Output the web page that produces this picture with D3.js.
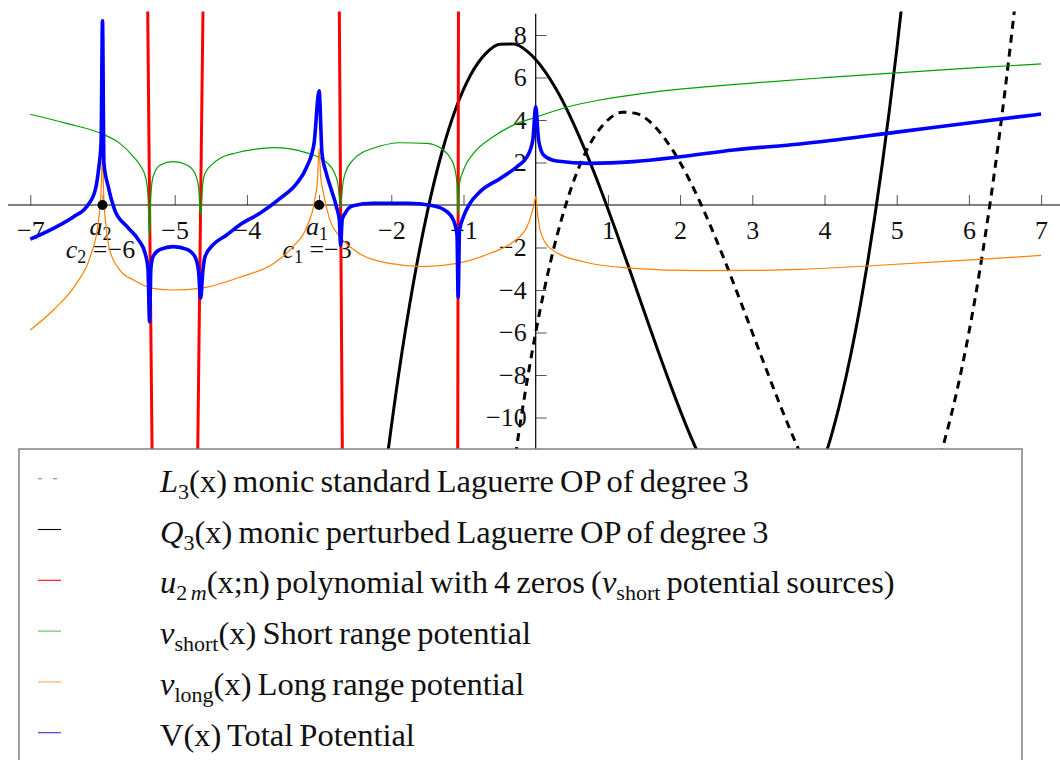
<!DOCTYPE html>
<html>
<head>
<meta charset="utf-8">
<script src="https://cdn.jsdelivr.net/npm/d3@7"></script>
<style>
  html, body { margin: 0; padding: 0; background: #fff; }
  svg { display: block; font-family: "Liberation Serif", "Times New Roman", serif; }
</style>
</head>
<body>
<div id="chart"></div>
<script>
// potentials plot, [x, y] pairs
const xTickValues = [-7, -6, -5, -4, -3, -2, -1, 1, 2, 3, 4, 5, 6, 7];
const xTickHidden = [-6, -3];
const yTickValues = [8, 6, 4, 2, -2, -4, -6, -8, -10];

// L3(x) dashed, two visible branches
const L3Left = [[-0.28,-11.77],[-0.2,-9.97],[-0.1,-7.89],[0,-6],[0.1,-4.29],[0.2,-2.75],[0.3,-1.38],[0.4,-0.18],
  [0.5,0.88],[0.6,1.78],[0.8,3.15],[1.0,4.0],[1.2,4.37],[1.4,4.30],[1.6,3.86],[1.8,3.07],[2.0,2.0],[2.2,0.69],
  [2.4,-0.82],[2.6,-2.46],[2.8,-4.21],[3.0,-6.0],[3.2,-7.79],[3.4,-9.54],[3.6,-11.18],[3.7,-11.96]];
const L3Right = [[5.6,-11.82],[5.7,-10.62],[5.8,-9.25],[5.9,-7.71],[6.0,-6.0],[6.1,-4.11],[6.2,-2.03],
  [6.3,0.24],[6.4,2.70],[6.5,5.38],[6.6,8.26],[6.7,11.35]];

// Q3(x) solid black
const Q3Left = [[-2.08,-12.48],[-1.9,-8.01],[-1.7,-3.79],[-1.5,-0.31],[-1.3,2.47],[-1.1,4.60],[-0.9,6.13],
  [-0.7,7.10],[-0.5,7.57],[-0.3,7.58],[-0.1,7.18],[0.1,6.42],[0.3,5.35],[0.5,4.01],[0.7,2.45],[0.9,0.73],
  [1.1,-1.12],[1.3,-3.04],[1.5,-4.99],[1.7,-6.92],[1.9,-8.77],[2.1,-10.51],[2.3,-12.07]];
const Q3Right = [[3.98,-12.12],[4.1,-10.79],[4.2,-9.51],[4.3,-8.06],[4.4,-6.44],[4.5,-4.63],[4.6,-2.64],
  [4.7,-0.46],[4.8,1.92],[4.9,4.50],[5.0,7.29],[5.1,10.30]];

// u_2m(x;n) - four nearly vertical branches through its zeros
const uBranches = [
  [[-5.374,9.2],[-5.348,0],[-5.313,-11.6]],
  [[-4.681,-11.6],[-4.641,0],[-4.608,9.2]],
  [[-2.720,9.2],[-2.702,0],[-2.678,-11.6]],
  [[-1.080,-11.6],[-1.074,0],[-1.070,9.2]]
];

// v_short(x)
const vShort = [[-7,4.27],[-6.5,3.84],[-6.0,3.34],[-5.76,2.90],[-5.57,2.27],[-5.47,1.82],[-5.40,1.25],[-5.37,0.45],
  [-5.348,-1.5],[-5.33,0.45],[-5.30,1.33],[-5.20,1.88],[-5.02,2.04],[-4.83,1.88],[-4.72,1.49],[-4.67,0.85],
  [-4.641,-0.5],[-4.615,0.85],[-4.58,1.49],[-4.47,1.95],[-4.37,2.2],[-4.14,2.46],[-3.9,2.62],[-3.63,2.70],
  [-3.4,2.64],[-3.17,2.45],[-3.0,2.24],[-2.89,1.98],[-2.80,1.6],[-2.74,1.0],[-2.702,-0.1],[-2.675,0.9],
  [-2.64,1.49],[-2.53,2.12],[-2.4,2.47],[-2.25,2.67],[-1.88,2.93],[-1.51,2.90],[-1.28,2.59],[-1.18,2.2],
  [-1.12,1.7],[-1.09,1.0],[-1.074,-0.5],[-1.055,1.0],[-1.00,1.65],[-0.86,2.43],[-0.59,3.21],[-0.31,3.76],
  [0,4.13],[0.43,4.6],[0.89,4.94],[1.44,5.23],[2.0,5.45],[3.0,5.74],[4.0,5.99],[5.0,6.22],[6.0,6.44],[7.0,6.64]];

// v_long(x)
const vLong = [[-7,-5.88],[-6.68,-4.94],[-6.36,-3.69],[-6.17,-2.43],[-6.06,-0.86],[-6.02,0.6],[-6.0,2.3],
  [-5.98,0.2],[-5.95,-1.02],[-5.90,-2.12],[-5.76,-3.06],[-5.57,-3.53],[-5.30,-3.92],[-5.02,-4.0],[-4.65,-3.92],
  [-4.10,-3.40],[-3.63,-2.75],[-3.36,-1.96],[-3.17,-1.02],[-3.06,0.24],[-3.02,1.3],[-3.0,2.67],[-2.98,1.4],
  [-2.94,0.55],[-2.85,-0.71],[-2.71,-1.49],[-2.48,-2.2],[-2.02,-2.75],[-1.56,-2.9],[-1.09,-2.75],[-0.63,-2.27],
  [-0.31,-1.73],[-0.12,-1.02],[-0.03,-0.08],[0,0.39],[0.03,-0.5],[0.06,-1.18],[0.2,-2.04],[0.66,-2.67],
  [1.35,-2.98],[2.28,-3.09],[3.0,-3.08],[3.66,-3.03],[4.58,-2.87],[6.15,-2.56],[7,-2.37]];

// V(x) total potential
const vTotal = [[-7,-1.61],[-6.68,-1.10],[-6.40,-0.55],[-6.22,-0.08],[-6.10,0.71],[-6.05,1.80],[-6.02,2.90],
  [-6.0,8.67],[-5.98,1.96],[-5.92,0.86],[-5.83,-0.24],[-5.66,-1.02],[-5.50,-1.65],[-5.41,-2.27],[-5.37,-3.0],
  [-5.348,-5.49],[-5.33,-3.0],[-5.30,-2.43],[-5.20,-2.09],[-5.02,-1.96],[-4.83,-2.09],[-4.72,-2.43],[-4.67,-3.1],
  [-4.641,-4.39],[-4.61,-3.1],[-4.58,-2.43],[-4.47,-1.88],[-4.28,-1.41],[-4.10,-0.94],[-3.82,-0.39],[-3.54,0.31],
  [-3.31,1.02],[-3.17,1.80],[-3.07,2.9],[-3.0,5.38],[-2.96,2.43],[-2.90,1.49],[-2.83,0.71],[-2.76,-0.08],
  [-2.72,-0.7],[-2.702,-1.9],[-2.68,-0.7],[-2.64,-0.39],[-2.53,-0.03],[-2.25,0.08],[-1.79,0.08],[-1.42,-0.03],
  [-1.23,-0.31],[-1.14,-0.71],[-1.09,-1.4],[-1.074,-4.34],[-1.055,-1.2],[-1.00,-0.55],[-0.91,0.08],[-0.77,0.63],
  [-0.49,1.25],[-0.26,1.80],[-0.12,2.27],[-0.04,3.06],[0,4.63],[0.04,3.06],[0.11,2.35],[0.29,2.07],[0.75,1.96],
  [1.35,2.04],[2.0,2.27],[2.74,2.59],[3.66,2.87],[5,3.43],[6,3.86],[7,4.28]];

// source points on the axis
const sources = [
  { x: -6, name: 'a', idx: '2', value: '−6' },
  { x: -3, name: 'a', idx: '1', value: '−3' }
];

const legendLabels = [
  [{t:'L',i:1},{t:'3',sub:1},{t:'(x) monic standard Laguerre OP of degree 3'}],
  [{t:'Q',i:1},{t:'3',sub:1},{t:'(x) monic perturbed Laguerre OP of degree 3'}],
  [{t:'u',i:1},{t:'2 ',sub:1},{t:'m',sub:1,i:1},{t:'(x;n) polynomial with 4 zeros ('},{t:'v',i:1},{t:'short',sub:1},{t:' potential sources)'}],
  [{t:'v',i:1},{t:'short',sub:1},{t:'(x) Short range potential'}],
  [{t:'v',i:1},{t:'long',sub:1},{t:'(x) Long range potential'}],
  [{t:'V(x) Total Potential'}]
];

(function(){
  const W = 1060, H = 760;
  const svg = d3.select('#chart').append('svg').attr('width', W).attr('height', H);

  const x = d3.scaleLinear().domain([-7, 7]).range([30.3, 1041.1]);
  const y = d3.scaleLinear().domain([-11.5, 9]).range([449.4, 13.75]);
  const fmt = v => v < 0 ? '−' + Math.abs(v) : String(v);
  const tickFont = 26;

  svg.append('defs').append('clipPath').attr('id', 'plotclip')
    .append('rect').attr('x', 0).attr('y', y(9.1)).attr('width', W).attr('height', y(-11.5) - y(9.1));

  // axes
  const xAxis = d3.axisBottom(x).tickValues(xTickValues)
    .tickSizeInner(-10).tickSizeOuter(0).tickPadding(16)
    .tickFormat(d => xTickHidden.includes(d) ? '' : fmt(d));
  const gx = svg.append('g').attr('transform', `translate(0,${y(0)})`).call(xAxis);
  gx.select('.domain').remove();
  gx.selectAll('.tick line').attr('stroke', '#555');
  gx.selectAll('.tick text').attr('font-size', tickFont).attr('font-family', 'Liberation Serif').attr('fill', '#111');
  svg.append('line').attr('x1', 8).attr('x2', W).attr('y1', y(0)).attr('y2', y(0))
    .attr('stroke', '#000').attr('stroke-width', 1.2);

  const yAxis = d3.axisLeft(y).tickValues(yTickValues)
    .tickSizeInner(-11).tickSizeOuter(0).tickPadding(9).tickFormat(fmt);
  const gy = svg.append('g').attr('transform', `translate(${x(0)},0)`).call(yAxis);
  gy.select('.domain').remove();
  gy.selectAll('.tick line').attr('stroke', '#555');
  gy.selectAll('.tick text').attr('font-size', tickFont).attr('font-family', 'Liberation Serif').attr('fill', '#111');
  svg.append('line').attr('x1', x(0)).attr('x2', x(0)).attr('y1', y(9)).attr('y2', y(-11.5))
    .attr('stroke', '#000').attr('stroke-width', 1.2);

  // a_i / c_i labels under the source points
  const lab = svg.append('g').attr('font-size', tickFont).attr('fill', '#111').attr('text-anchor', 'middle')
    .style('white-space', 'pre');
  sources.forEach(s => {
    const t1 = lab.append('text').attr('x', x(s.x) - 2).attr('y', 235);
    t1.append('tspan').attr('font-style', 'italic').text(s.name);
    t1.append('tspan').attr('font-size', 18).attr('dy', 5).text(s.idx);
    const t2 = lab.append('text').attr('x', x(s.x) - 2).attr('y', 258);
    t2.append('tspan').attr('font-style', 'italic').text('c');
    t2.append('tspan').attr('font-size', 18).attr('dy', 5).text(s.idx);
    t2.append('tspan').attr('dy', -5).text(' =' + s.value);
  });

  const line = d3.line().x(d => x(d[0])).y(d => y(d[1])).curve(d3.curveMonotoneX);
  const plot = svg.append('g').attr('clip-path', 'url(#plotclip)').attr('fill', 'none')
    .attr('stroke-linejoin', 'round');

  [L3Left, L3Right].forEach(seg => plot.append('path').attr('d', line(seg))
    .attr('stroke', '#000').attr('stroke-width', 3).attr('stroke-dasharray', '8,6'));
  [Q3Left, Q3Right].forEach(seg => plot.append('path').attr('d', line(seg))
    .attr('stroke', '#000').attr('stroke-width', 3));
  uBranches.forEach(seg => plot.append('path').attr('d', d3.line().x(d => x(d[0])).y(d => y(d[1]))(seg))
    .attr('stroke', '#ff0000').attr('stroke-width', 3));
  plot.append('path').attr('d', line(vShort)).attr('stroke', '#00a000').attr('stroke-width', 1.2);
  plot.append('path').attr('d', line(vLong)).attr('stroke', '#ff8000').attr('stroke-width', 1.2);
  plot.append('path').attr('d', line(vTotal)).attr('stroke', '#0000ff').attr('stroke-width', 3.6);

  svg.append('g').selectAll('circle').data(sources).join('circle')
    .attr('cx', d => x(d.x)).attr('cy', y(0)).attr('r', 5).attr('fill', '#000');

  // legend box (runs past the bottom edge)
  const legend = svg.append('g');
  legend.append('rect').attr('x', 19).attr('y', 449).attr('width', 1003).attr('height', 340)
    .attr('fill', '#fff').attr('stroke', '#808080').attr('stroke-width', 1.5);

  const swatches = [
    { stroke: '#777', dash: '4,11' }, { stroke: '#000' }, { stroke: '#ff0000' },
    { stroke: '#55c055' }, { stroke: '#ffaa55' }, { stroke: '#3030e0' }
  ];
  legendLabels.forEach((parts, i) => {
    const base = 491.7 + i * 50.8;
    const sw = swatches[i];
    legend.append('line').attr('x1', 38).attr('x2', 61).attr('y1', base - 13).attr('y2', base - 13)
      .attr('stroke', sw.stroke).attr('stroke-width', 1.1).attr('stroke-dasharray', sw.dash || null);
    const t = legend.append('text').attr('x', 160).attr('y', base).attr('font-size', 32.5)
      .attr('word-spacing', -2).attr('fill', '#111').style('white-space', 'pre');
    let down = false;
    parts.forEach(p => {
      const ts = t.append('tspan').text(p.t);
      if (p.i) ts.attr('font-style', 'italic');
      if (p.sub) {
        ts.attr('font-size', 22);
        if (!down) { ts.attr('dy', 7); down = true; }
      } else if (down) { ts.attr('dy', -7); down = false; }
    });
  });
})();
</script>
</body>
</html>
